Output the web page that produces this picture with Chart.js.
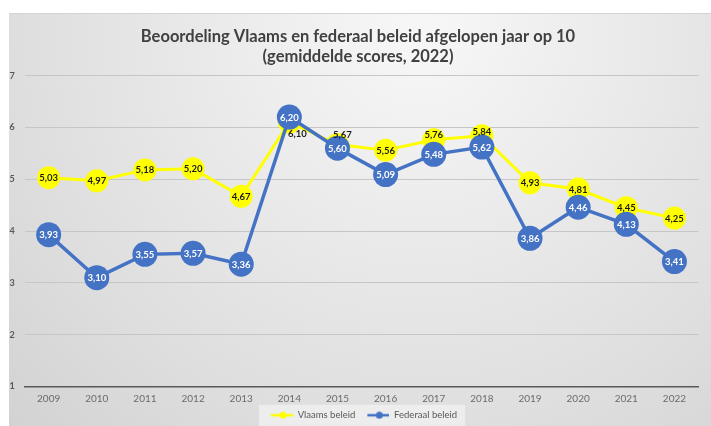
<!DOCTYPE html>
<html lang="nl">
<head>
<meta charset="utf-8">
<title>Beoordeling Vlaams en federaal beleid</title>
<script src="https://cdn.jsdelivr.net/npm/chart.js@4.4.1/dist/chart.umd.min.js"></script>
<style>
  html, body { margin: 0; padding: 0; background: #ffffff; }
  #cadre { width: 711px; height: 426px; }
</style>
</head>
<body>
<div id="cadre"><canvas id="graphique"></canvas></div>
<script>
// ==========================================================
// DONNÉES DU GRAPHIQUE
// ==========================================================
const annees = ["2009", "2010", "2011", "2012", "2013", "2014", "2015", "2016", "2017", "2018", "2019", "2020", "2021", "2022"];
const scoresVlaams = [5.03, 4.97, 5.18, 5.20, 4.67, 6.10, 5.67, 5.56, 5.76, 5.84, 4.93, 4.81, 4.45, 4.25];
const scoresFederaal = [3.93, 3.10, 3.55, 3.57, 3.36, 6.20, 5.60, 5.09, 5.48, 5.62, 3.86, 4.46, 4.13, 3.41];
const titreLignes = ["Beoordeling Vlaams en federaal beleid afgelopen jaar op 10", "(gemiddelde scores, 2022)"];
const graduationsY = [1, 2, 3, 4, 5, 6, 7];

// Décalage (dx, dy) des étiquettes jaunes qui ne sont pas centrées
const decalagesVlaams = { 5: [8, 11], 6: [5, -10], 8: [0, -5], 9: [0, -4] };

const JAUNE = "#FFFF00";
const BLEU = "#4472C4";
const POLICE = "Lato, 'Open Sans', sans-serif";

// ==========================================================
// ICÔNE DE LÉGENDE (marge transparente + ligne + point)
// ==========================================================
function iconeLegende(couleur) {
  const c = document.createElement("canvas");
  c.width = 34;
  c.height = 8;
  const ctx = c.getContext("2d");
  ctx.strokeStyle = couleur;
  ctx.lineWidth = 2.5;
  ctx.beginPath();
  ctx.moveTo(12, 4);
  ctx.lineTo(34, 4);
  ctx.stroke();
  ctx.fillStyle = couleur;
  ctx.beginPath();
  ctx.arc(24, 4, 3.5, 0, Math.PI * 2);
  ctx.fill();
  return c;
}

// ==========================================================
// PLUGIN : FOND DÉGRADÉ + CADRE DE LÉGENDE
// ==========================================================
const pluginFond = {
  id: "fond",
  beforeDraw(chart) {
    const ctx = chart.ctx;
    const w = chart.width, h = chart.height;
    ctx.save();
    ctx.fillStyle = "#ffffff";
    ctx.fillRect(0, 0, w, h);
    const grad = ctx.createRadialGradient(420, 30, 20, 420, 30, 720);
    grad.addColorStop(0, "#f6f6f6");
    grad.addColorStop(0.55, "#dedede");
    grad.addColorStop(1, "#c8c8c8");
    ctx.fillStyle = grad;
    ctx.fillRect(9, 13, w - 9, h - 13);
    ctx.strokeStyle = "#d4d4d4";
    ctx.lineWidth = 1;
    ctx.beginPath();
    ctx.moveTo(9, 13.5);
    ctx.lineTo(w, 13.5);
    ctx.stroke();

    const leg = chart.legend;
    if (leg && leg.legendHitBoxes && leg.legendHitBoxes.length) {
      const boites = leg.legendHitBoxes;
      const x0 = boites[0].left;
      const x1 = boites[boites.length - 1].left + boites[boites.length - 1].width + 8;
      const yc = boites[0].top + boites[0].height / 2;
      ctx.fillStyle = "rgba(240,240,240,0.85)";
      ctx.fillRect(x0, yc - 10.5, x1 - x0, 21);
    }
    ctx.restore();
  }
};

// ==========================================================
// PLUGIN : ÉTIQUETTES DE VALEURS
// ==========================================================
const pluginEtiquettes = {
  id: "etiquettes",
  afterDatasetsDraw(chart) {
    const ctx = chart.ctx;
    ctx.save();
    ctx.font = "bold 9.5px " + POLICE;
    ctx.textAlign = "center";
    ctx.textBaseline = "middle";
    chart.data.datasets.forEach((ds, di) => {
      const meta = chart.getDatasetMeta(di);
      meta.data.forEach((pt, i) => {
        const texte = ds.data[i].toFixed(2).replace(".", ",");
        let dx = 0, dy = 0;
        if (di === 0 && decalagesVlaams[i]) {
          dx = decalagesVlaams[i][0];
          dy = decalagesVlaams[i][1];
        }
        ctx.fillStyle = di === 0 ? "#1a1a1a" : "#ffffff";
        ctx.fillText(texte, pt.x + dx, pt.y + dy + 0.5);
      });
    });
    ctx.restore();
  }
};

// ==========================================================
// CRÉATION DU GRAPHIQUE
// ==========================================================
new Chart(document.getElementById("graphique").getContext("2d"), {
  type: "line",
  data: {
    labels: annees,
    datasets: [
      {
        label: "Vlaams beleid",
        data: scoresVlaams,
        borderColor: JAUNE,
        backgroundColor: JAUNE,
        borderWidth: 3,
        pointRadius: 11.5,
        pointBorderWidth: 0,
        pointHoverRadius: 11.5,
        pointStyle: "circle",
        tension: 0,
        order: 1
      },
      {
        label: "Federaal beleid",
        data: scoresFederaal,
        borderColor: BLEU,
        backgroundColor: BLEU,
        borderWidth: 3.5,
        pointRadius: 12.5,
        pointBorderWidth: 0,
        pointHoverRadius: 12.5,
        pointStyle: "circle",
        tension: 0,
        order: 0
      }
    ]
  },
  options: {
    responsive: true,
    maintainAspectRatio: false,
    animation: false,
    layout: { padding: { left: 8, right: 3, top: 13, bottom: -4 } },
    plugins: {
      tooltip: { enabled: false },
      title: {
        display: true,
        text: titreLignes,
        color: "#404040",
        font: { family: POLICE, size: 16.5, weight: "bold", lineHeight: 1.2 },
        padding: { top: 14, bottom: 9 }
      },
      legend: {
        position: "bottom",
        labels: {
          usePointStyle: true,
          pointStyleWidth: 34,
          boxHeight: 8,
          color: "#595959",
          font: { family: POLICE, size: 9.5 },
          padding: 0,
          sort: (a, b) => a.datasetIndex - b.datasetIndex,
          generateLabels: (chart) => chart.data.datasets.map((ds, i) => ({
            text: ds.label,
            pointStyle: iconeLegende(ds.borderColor),
            fillStyle: ds.borderColor,
            strokeStyle: ds.borderColor,
            lineWidth: 0,
            hidden: false,
            datasetIndex: i,
            fontColor: "#595959"
          }))
        }
      }
    },
    scales: {
      x: {
        offset: true,
        grid: { display: false, drawTicks: false },
        border: { display: true, color: "#595959", width: 1.5 },
        ticks: { color: "#6b6b6b", font: { family: POLICE, size: 10 }, padding: 6 }
      },
      y: {
        min: 1,
        max: 7,
        afterBuildTicks: (axe) => { axe.ticks = graduationsY.map(v => ({ value: v })); },
        afterFit: (axe) => { axe.width = 16.6; },
        grid: { color: "#c6c6c6", lineWidth: 1, drawTicks: false },
        border: { display: false },
        ticks: {
          color: "#595959",
          font: { family: POLICE, size: 9, weight: "bold" },
          padding: 10,
          align: "center"
        }
      }
    }
  },
  plugins: [pluginFond, pluginEtiquettes]
});
</script>
</body>
</html>
